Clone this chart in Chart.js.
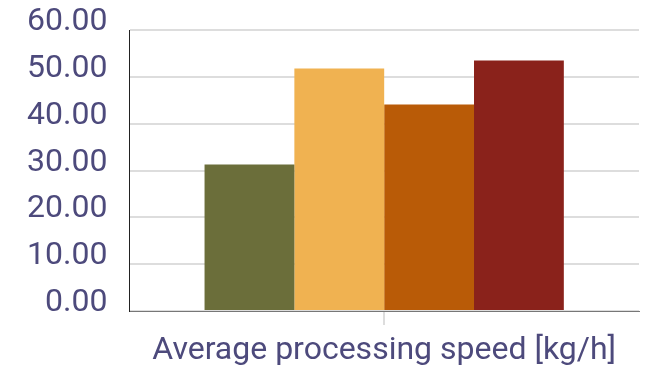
<!DOCTYPE html>
<html>
<head>
<meta charset="utf-8">
<script src="https://cdn.jsdelivr.net/npm/chart.js@4/dist/chart.umd.min.js"></script>
<style>
  html, body { margin: 0; padding: 0; background: #ffffff; }
  #wrap { width: 645px; height: 367px; }
</style>
</head>
<body>
<div id="wrap"><canvas id="chart" width="645" height="367"></canvas></div>
<script>
// Category shown under the x axis
const categories = ['Average processing speed [kg/h]'];

// One bar per series
const seriesNames = ['Series 1', 'Series 2', 'Series 3', 'Series 4'];
const seriesValues = [31.3, 51.8, 44.1, 53.5];
const seriesColors = ['#6b6e3a', '#f0b251', '#b95b07', '#8a221b'];

// Value axis ticks
const yTicks = [0, 10, 20, 30, 40, 50, 60];

const textColor = '#4d4a7c';
const fontFamily = 'Roboto, "Liberation Sans", sans-serif';

const datasets = seriesNames.map((name, i) => ({
  label: name,
  data: [seriesValues[i]],
  backgroundColor: seriesColors[i],
  borderWidth: 0,
  categoryPercentage: 0.705,
  barPercentage: 1.0
}));

new Chart(document.getElementById('chart'), {
  type: 'bar',
  data: { labels: categories, datasets },
  options: {
    responsive: false,
    animation: false,
    layout: { padding: { left: 5, right: 6, top: 30, bottom: 0 } },
    plugins: {
      legend: { display: false },
      tooltip: { enabled: false }
    },
    scales: {
      x: {
        afterFit: (s) => { s.height = 56; s.paddingLeft = 0; s.paddingRight = 0; },
        grid: {
          display: true,
          offset: false,
          drawOnChartArea: false,
          drawTicks: true,
          tickLength: 14,
          color: '#dddddd',
          lineWidth: 2
        },
        border: { display: true, color: '#777777', width: 1 },
        ticks: {
          color: textColor,
          font: { family: fontFamily, size: 32, lineHeight: 1.0 },
          padding: 10
        }
      },
      y: {
        afterFit: (s) => { s.paddingTop = 0; s.paddingBottom = 0; },
        min: yTicks[0],
        max: yTicks[yTicks.length - 1],
        afterBuildTicks: (axis) => { axis.ticks = yTicks.map(v => ({ value: v })); },
        grid: {
          color: '#dddddd',
          lineWidth: 2,
          drawTicks: false
        },
        border: { display: true, color: '#222222', width: 1 },
        ticks: {
          color: textColor,
          font: { family: fontFamily, size: 32, lineHeight: 1.0 },
          padding: 22,
          labelOffset: -8,
          callback: (v) => Number(v).toFixed(2)
        }
      }
    }
  }
});
</script>
</body>
</html>
